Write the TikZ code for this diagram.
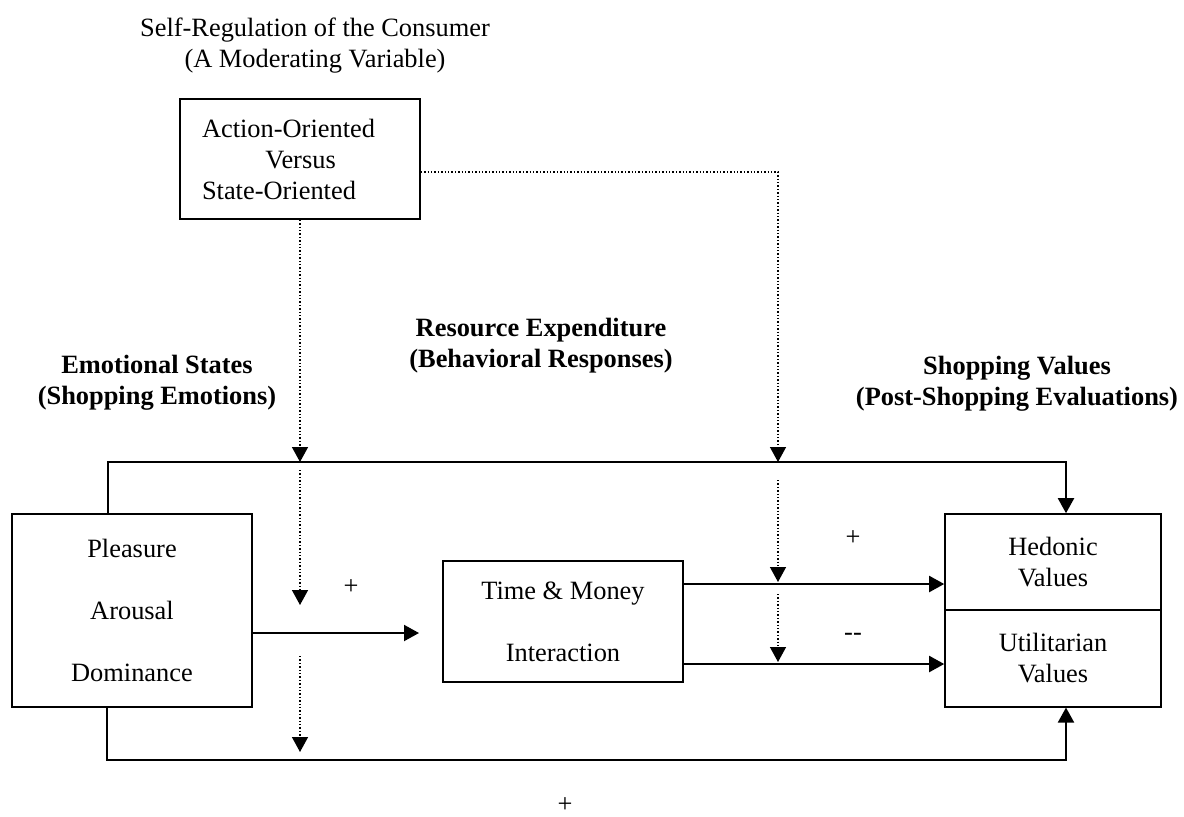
\documentclass[tikz,border=0pt]{standalone}
\usepackage{fontspec}
\setmainfont{Liberation Serif}
\usetikzlibrary{arrows.meta}

\begin{document}
\begin{tikzpicture}[x=0.5pt,y=-0.5pt,
    font=\fontsize{13.2}{15.5}\selectfont,
    >={Triangle[length=7.5pt,width=8pt]},
    flow/.style={->,line width=1pt},
    modflow/.style={->,densely dotted,line width=0.7pt}]

        \useasboundingbox (0,0) rectangle (1184,816);

        \begin{scope}[every node/.style={draw,line width=0.8pt,inner sep=0pt,align=center}]
          \node[minimum height=60pt,align=left,text width=98pt,inner xsep=11pt] (mod) at (300,159)
            {Action-Oriented\\\hspace*{2.4em}Versus\\State-Oriented};
          \node[minimum width=120pt,minimum height=96.5pt] (pad) at (132,610.5)
            {Pleasure\\[15.5pt]Arousal\\[15.5pt]Dominance};
          \node[minimum width=120pt,minimum height=60.5pt] (tm) at (563,621.5)
            {Time \& Money\\[15.5pt]Interaction};
          \node[minimum width=108pt,minimum height=48pt] (hed) at (1053,562) {Hedonic\\Values};
          \node[minimum width=108pt,minimum height=48.5pt] (utl) at (1053,658.25) {Utilitarian\\Values};
        \end{scope}

        \begin{scope}[every node/.style={align=center}]
          \node (self) at (315,46) {Self-Regulation of the Consumer\\(A Moderating Variable)};
          \begin{scope}[every node/.append style={font=\fontsize{13.2}{15.5}\selectfont\bfseries}]
            \node (emo) at (157,383) {Emotional States\\(Shopping Emotions)};
            \node (res) at (541,346) {Resource Expenditure\\(Behavioral Responses)};
            \node (val) at (1017,384) {Shopping Values\\(Post-Shopping Evaluations)};
          \end{scope}
          \node (p1) at (351,587) {+};
          \node (p2) at (853,538) {+};
          \node (m1) at (853,637) {-{}-};
          \node (p3) at (565,805) {+};
        \end{scope}

        \coordinate (ytop) at (0,462);
        \coordinate (ybot) at (0,760);
        \coordinate (xr) at (778,0);
        \coordinate (pa) at (419,633);

        % direct paths
        \draw[flow] ([xshift=-12pt]pad.north) |- ([xshift=6.5pt]hed.north |- ytop) -- ([xshift=6.5pt]hed.north);
        \draw[flow] ([xshift=-12.5pt]pad.south) |- ([xshift=6.5pt]utl.south |- ybot) -- ([xshift=6.5pt]utl.south);
        \draw[flow] (pad.east |- pa) -- (pa);
        \draw[flow] ([yshift=18.75pt]tm.east) -- ([yshift=18.75pt]tm.east -| hed.west);
        \draw[flow] ([yshift=-21.25pt]tm.east) -- ([yshift=-21.25pt]tm.east -| utl.west);

        % moderating paths
        \draw[modflow] (mod.south) -- (mod.south |- ytop);
        \foreach \a/\b in {470/605,656/752}
          \draw[modflow] (mod.south |- 0,\a) -- (mod.south |- 0,\b);
        \draw[modflow] ([yshift=-6.5pt]mod.east) -| (xr |- ytop);
        \foreach \a/\b in {480/582,594/662}
          \draw[modflow] (xr |- 0,\a) -- (xr |- 0,\b);

      \end{tikzpicture}
\end{document}
